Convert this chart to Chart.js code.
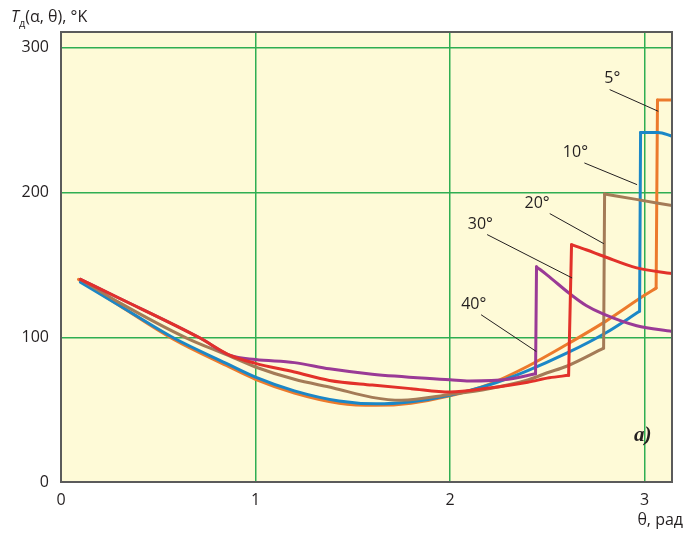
<!DOCTYPE html>
<html>
<head>
<meta charset="utf-8">
<script src="https://cdn.jsdelivr.net/npm/chart.js@4/dist/chart.umd.min.js"></script>
<style>
  html, body { margin: 0; padding: 0; background: #fff; }
  #wrap { width: 684px; height: 533px; }
</style>
</head>
<body>
<div id="wrap"><canvas id="chart" width="684" height="533"></canvas></div>
<script>
'use strict';

// θ (rad) and T (°K).
// each curve: the smooth branch before the jump, then the branch after it
const theta5Low  = [0.09, 0.3, 0.58, 0.85, 1.0, 1.2, 1.43, 1.62, 1.8, 2.0, 2.2, 2.4, 2.6, 2.8, 3.0, 3.06];
const temp5Low   = [140, 122, 98.5, 80.5, 71, 61.5, 54.5, 53, 54.5, 59.5, 67.5, 80, 95, 111, 129, 134];
const theta5High = [3.067, 3.142];
const temp5High  = [264, 264];

const theta10Low  = [0.1, 0.3, 0.58, 0.85, 1.0, 1.2, 1.43, 1.62, 1.8, 2.0, 2.2, 2.4, 2.6, 2.8, 2.975];
const temp10Low   = [138, 122, 99.5, 82, 72.5, 63, 56, 54, 55.5, 60, 67, 77, 89, 103, 118];
const theta10High = [2.98, 3.07, 3.142];
const temp10High  = [241.5, 241.5, 239];

const theta20Low  = [0.1, 0.3, 0.646, 0.85, 1.0, 1.2, 1.4, 1.6, 1.75, 2.0, 2.2, 2.4, 2.5, 2.6, 2.79];
const temp20Low   = [140, 124, 99.5, 88, 79.5, 71, 65, 58.5, 56.5, 60.5, 64.5, 70.5, 75.5, 80, 92.5];
const theta20High = [2.795, 2.95, 3.142];
const temp20High  = [199, 195.5, 191];

const theta30Low  = [0.1, 0.3, 0.715, 0.87, 1.0, 1.2, 1.38, 1.6, 1.8, 2.0, 2.2, 2.4, 2.51, 2.61];
const temp30Low   = [140, 127, 99.5, 87.5, 82, 76, 70.2, 67, 64.5, 62.2, 65, 69, 72, 73.7];
const theta30High = [2.625, 2.7, 2.79, 2.96, 3.142];
const temp30High  = [164, 160.5, 156, 148, 144];

const theta40Low  = [0.1, 0.3, 0.715, 0.87, 1.0, 1.2, 1.38, 1.6, 2.0, 2.1, 2.3, 2.44];
const temp40Low   = [140, 127, 99.5, 87.5, 84.6, 82.5, 78.2, 74.5, 70.7, 69.8, 71, 74.8];
const theta40High = [2.445, 2.5, 2.617, 2.7, 2.79, 2.96, 3.142];
const temp40High  = [148.7, 143, 130, 122, 116, 108, 104];

const xTicks = [0, 1, 2, 3];
const yTicks = [0, 100, 200, 300];

// curve labels with their leader lines (data units)
const curveLabels = [
  { text: '5°',  tx: 2.835, ty: 278.8, x1: 2.821, y1: 271.2, x2: 3.071, y2: 256.2 },
  { text: '10°', tx: 2.645, ty: 227.7, x1: 2.691, y1: 220.5, x2: 2.962, y2: 205.5 },
  { text: '20°', tx: 2.448, ty: 192.4, x1: 2.513, y1: 185.5, x2: 2.791, y2: 164.7 },
  { text: '30°', tx: 2.156, ty: 177.9, x1: 2.191, y1: 171.0, x2: 2.628, y2: 141.0 },
  { text: '40°', tx: 2.122, ty: 122.5, x1: 2.160, y1: 115.6, x2: 2.444, y2: 90.2 }
];

const FONT = "'Open Sans', 'Noto Sans', sans-serif";
const TEXT_COLOR = '#231f20';

const toPoints = (xs, ys) => xs.map((x, i) => ({ x, y: ys[i] }));

function line(data, color, smooth) {
  return {
    data,
    borderColor: color,
    borderWidth: 3,
    borderCapStyle: 'round',
    borderJoinStyle: 'round',
    pointRadius: 0,
    fill: false,
    tension: 0,
    cubicInterpolationMode: smooth ? 'monotone' : 'default'
  };
}

// low branch, the vertical jump, high branch
function curve(xLow, yLow, xHigh, yHigh, color) {
  const low = toPoints(xLow, yLow);
  const high = toPoints(xHigh, yHigh);
  return [
    line(low, color, true),
    line([low[low.length - 1], high[0]], color, false),
    line(high, color, true)
  ];
}

// first datasets end up on top
const datasets = [
  ...curve(theta30Low, temp30Low, theta30High, temp30High, '#e2312a'),
  ...curve(theta40Low, temp40Low, theta40High, temp40High, '#9a3a96'),
  ...curve(theta20Low, temp20Low, theta20High, temp20High, '#a47b57'),
  ...curve(theta10Low, temp10Low, theta10High, temp10High, '#1b87c7'),
  ...curve(theta5Low, temp5Low, theta5High, temp5High, '#ec7a2c')
];

const plotBackground = {
  id: 'plotBackground',
  beforeDraw(chart) {
    const { ctx, chartArea: a } = chart;
    ctx.save();
    ctx.fillStyle = '#fefad7';
    ctx.fillRect(a.left, a.top, a.right - a.left, a.bottom - a.top);
    ctx.restore();
  }
};

const frameAndText = {
  id: 'frameAndText',
  afterDatasetsDraw(chart) {
    const { ctx, chartArea: a, scales: { x, y } } = chart;
    ctx.save();

    // leader lines + labels
    ctx.strokeStyle = '#231f20';
    ctx.lineWidth = 1;
    ctx.fillStyle = TEXT_COLOR;
    ctx.font = `16px ${FONT}`;
    ctx.textAlign = 'center';
    ctx.textBaseline = 'middle';
    curveLabels.forEach(l => {
      ctx.beginPath();
      ctx.moveTo(x.getPixelForValue(l.x1), y.getPixelForValue(l.y1));
      ctx.lineTo(x.getPixelForValue(l.x2), y.getPixelForValue(l.y2));
      ctx.stroke();
      ctx.fillText(l.text, x.getPixelForValue(l.tx), y.getPixelForValue(l.ty));
    });

    // frame
    ctx.strokeStyle = '#5b5b5b';
    ctx.lineWidth = 2;
    ctx.strokeRect(a.left, a.top, a.right - a.left, a.bottom - a.top);

    // panel mark
    ctx.font = "bold italic 21px 'Liberation Serif', serif";
    ctx.textAlign = 'left';
    ctx.textBaseline = 'alphabetic';
    ctx.fillText('a)', 634, 441);

    // axis titles
    ctx.font = `16px ${FONT}`;
    ctx.textAlign = 'right';
    ctx.fillText('θ, рад', 683, 525);

    ctx.textAlign = 'left';
    let px = 11;
    ctx.font = `italic 16px ${FONT}`;
    ctx.fillText('T', px, 22);
    px += ctx.measureText('T').width;
    ctx.font = `11px ${FONT}`;
    ctx.fillText('д', px, 27);
    px += ctx.measureText('д').width;
    ctx.font = `16px ${FONT}`;
    ctx.fillText('(α, θ), °K', px, 22);

    ctx.restore();
  }
};

const gridColor = ctx => (ctx.tick && ctx.tick.value === 0 ? 'rgba(0,0,0,0)' : '#2fae52');

new Chart(document.getElementById('chart'), {
  type: 'line',
  data: { datasets },
  options: {
    responsive: false,
    animation: false,
    events: [],
    layout: { padding: { top: 32, right: 12, left: 0, bottom: 0 } },
    plugins: { legend: { display: false }, tooltip: { enabled: false }, title: { display: false } },
    scales: {
      x: {
        type: 'linear',
        min: 0,
        max: Math.PI,
        afterFit: s => { s.height = 51; },
        afterBuildTicks: s => { s.ticks = xTicks.map(v => ({ value: v })); },
        border: { display: false },
        grid: { color: gridColor, lineWidth: 1.5, drawTicks: false },
        ticks: { color: TEXT_COLOR, font: { family: FONT, size: 16 }, padding: 9, maxRotation: 0 }
      },
      y: {
        type: 'linear',
        min: 0,
        max: 311,
        afterFit: s => { s.width = 61; },
        afterBuildTicks: s => { s.ticks = yTicks.map(v => ({ value: v })); },
        border: { display: false },
        grid: { color: gridColor, lineWidth: 1.5, drawTicks: false },
        ticks: { color: TEXT_COLOR, font: { family: FONT, size: 16 }, padding: 12 }
      }
    }
  },
  plugins: [plotBackground, frameAndText]
});
</script>
</body>
</html>
